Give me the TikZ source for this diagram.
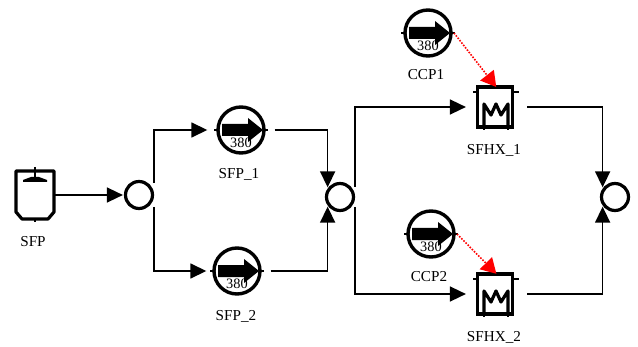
\documentclass[tikz,border=0pt]{standalone}
\usepackage{fontspec}
\setmainfont{Liberation Serif}
\usetikzlibrary{arrows.meta}
\def\pxl{0.025cm}
\definecolor{C0}{HTML}{ff0000}
\tikzset{
  tag/.style={font=\fontsize{10.8}{12}\selectfont, inner sep=0pt},
  wall/.style={line width=3.2*\pxl, line join=round},
  stub/.style={line width=2.4*\pxl},
  pipe/.style={line width=1.6*\pxl, -{Triangle[length=16*\pxl, width=15*\pxl]}, shorten >=1*\pxl},
  signal/.style={line width=1.6*\pxl, C0, densely dotted, -{Triangle[length=15*\pxl, width=17*\pxl]}, shorten >=-2*\pxl},
  mixer/.style={circle, draw, line width=3.2*\pxl, minimum size=27*\pxl, inner sep=0pt},
  pumpbody/.style={circle, draw, line width=3.4*\pxl, minimum size=46*\pxl, inner sep=0pt},
  hxbody/.style={rectangle, draw, line width=3.2*\pxl, minimum width=35*\pxl, minimum height=40*\pxl, inner sep=0pt},
  tankbody/.style={rectangle, minimum width=38*\pxl, minimum height=48*\pxl, inner sep=0pt},
  pumpmark/.pic={
    \draw[stub] (-27,0) -- (-23,0);
    \draw[stub] (23,0) -- (27,0);
    \fill (-19,-6) -- (7,-6) -- (7,-12) -- (22,0) -- (7,12) -- (7,6) -- (-19,6) -- cycle;
    \node[font=\fontsize{10.2}{12}\selectfont, inner sep=0pt] (-rating) at (0,13) {380};
    \coordinate (-out) at (26,0);
  },
  hxmark/.pic={
    \draw[stub] (-22,-15) -- (-17,-15);
    \draw[stub] (17,-15) -- (24,-15);
    \draw[stub] (-11,20) -- (-11,23);
    \draw[stub] (13,20) -- (13,23);
    \draw[wall] (-11,20) -- (-11,-3) -- (-4,8) -- (1,-3) -- (6,8) -- (13,-3) -- (13,20);
  },
  tankmark/.pic={
    \draw[wall] (-19,-24) -- (-19,17) -- (-13,24) -- (13,24) -- (19,17) -- (19,-24) -- cycle;
    \draw[stub] (0,-28) -- (0,-24);
    \draw[stub] (0,24) -- (0,27);
    \draw[line width=2.4*\pxl] (0,-24) -- (0,-17);
    \fill (-12,-15) -- (-4,-18) -- (4,-18) -- (12,-15) -- (12,-13) -- (-12,-13) -- cycle;
  }
}
\begin{document}
\begin{tikzpicture}[x=\pxl, y=-\pxl]
\useasboundingbox (0,0) rectangle (638,347);

% equipment
\node[tankbody] (sfp) at (35,195) {};
\pic at (sfp) {tankmark};
\node[mixer] (mix1) at (139,195) {};
\node[mixer] (mix2) at (340,197) {};
\node[mixer] (mix3) at (615,197) {};

\node[pumpbody] (sfp1) at (241,130) {};
\pic (sfp1) at (sfp1) {pumpmark};
\node[pumpbody] (sfp2) at (237,271) {};
\pic (sfp2) at (sfp2) {pumpmark};
\node[pumpbody] (ccp1) at (428,33) {};
\pic (ccp1) at (ccp1) {pumpmark};
\node[pumpbody] (ccp2) at (431,234) {};
\pic (ccp2) at (ccp2) {pumpmark};

\node[hxbody] (sfhx1) at (495,107) {};
\pic at (sfhx1) {hxmark};
\node[hxbody] (sfhx2) at (495,294) {};
\pic at (sfhx2) {hxmark};

% labels
\node[tag] (sfplabel) at (33,242) {SFP};
\node[tag] (sfp1label) at (239,174) {SFP\_1};
\node[tag] (sfp2label) at (236,316) {SFP\_2};
\node[tag] (ccp1label) at (426,75) {CCP1};
\node[tag] (ccp2label) at (429,277) {CCP2};
\node[tag] (sfhx1label) at (494,150) {SFHX\_1};
\node[tag] (sfhx2label) at (494,337) {SFHX\_2};

% piping
\draw[pipe] (sfp.east) -- (mix1.west);
\draw[pipe, shorten >=9*\pxl] (mix1.east) ++(0,-12) |- (sfp1.west);
\draw[pipe, shorten >=6*\pxl] (mix1.east) ++(0,12) |- (sfp2.west);
\draw[pipe, shorten <=9*\pxl] (sfp1.east) -| (mix2.145);
\draw[pipe, shorten <=9*\pxl] (sfp2.east) -| (mix2.215);
\draw[pipe, shorten >=10*\pxl] (mix2.east) ++(0,-10) |- (sfhx1.west);
\draw[pipe, shorten >=10*\pxl] (mix2.east) ++(0,10) |- (sfhx2.west);
\draw[pipe, shorten <=13*\pxl] (sfhx1.east) -| (mix3.145);
\draw[pipe, shorten <=13*\pxl] (sfhx2.east) -| (mix3.215);

% cooling water
\draw[signal] (ccp1-out) -- (sfhx1.north);
\draw[signal] (ccp2-out) -- (sfhx2.north);

\end{tikzpicture}
\end{document}
